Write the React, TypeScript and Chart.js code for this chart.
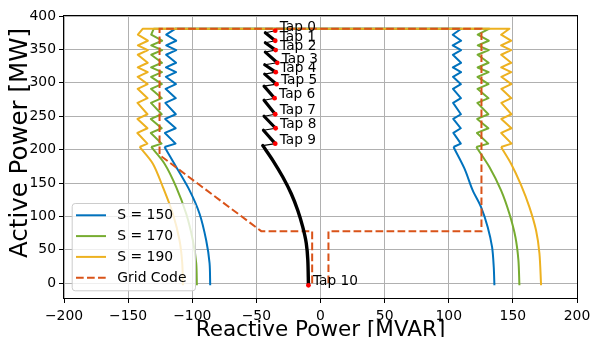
import React, { useEffect, useRef } from 'react';
import { Chart, registerables } from 'chart.js';

Chart.register(...registerables);

const FONT = '"DejaVu Sans", "Liberation Sans", sans-serif';

// ---- axes ----
const xTicks = [-200, -150, -100, -50, 0, 50, 100, 150, 200];
const yTicks = [0, 50, 100, 150, 200, 250, 300, 350, 400];
const X_MIN = -200;
const X_MAX = 200;
const Y_MIN = -22;
const Y_MAX = 400;
const X_TITLE = 'Reactive Power [MVAR]';
const Y_TITLE = 'Active Power [MW]';

// ---- colours ----
const BLUE = '#0072BD';
const GREEN = '#77AC30';
const ORANGE = '#EDB120';
const GRID_RED = '#D95319';

// ---- legend labels ----
const seriesLabels = ['S = 150', 'S = 170', 'S = 190', 'Grid Code'];

// ---- tap (red) operating points ----
const tapNames = ['Tap 0', 'Tap 1', 'Tap 2', 'Tap 3', 'Tap 4', 'Tap 5', 'Tap 6', 'Tap 7', 'Tap 8', 'Tap 9', 'Tap 10'];
const tapQ = [-35.3, -35.3, -35.0, -33.7, -34.9, -34.3, -35.8, -35.3, -35.0, -35.3, -9.4];
const tapP = [378, 363, 349, 330, 316, 298, 277, 253, 232, 209, -3];

// black segment starting points (after each tap change)
const segStartQ = [-43, -43, -43, -43.5, -43.5, -44, -44, -44, -44.5];
const segStartP = [375, 360, 346, 327, 313, 295, 274, 250, 229];

// black lower arc
const blackArcQ = [-45, -37.2, -29.4, -22.8, -17.7, -13.8, -11.1, -9.9, -9.4];
const blackArcP = [206, 184, 159, 134, 109, 84, 60, 35, -3];

// ---- capability curves: zig-zag part (top -> bottom) ----
const zigP = [381, 372, 363, 356, 349, 342, 330, 323, 316, 309, 298, 291, 277, 270, 253, 246, 232, 225, 209, 204];

const s150LeftZigQ = [-113, -120.3, -112.5, -120.3, -112.5, -120.4, -112.6, -120.5, -112.6, -120.6, -112.7, -120.8, -112.8, -121.0, -112.8, -121.1, -112.9, -121.3, -113.0, -121.6];
const s150RightZigQ = [109.7, 103.1, 109.7, 103.1, 109.6, 103.2, 109.6, 103.2, 109.6, 103.3, 109.5, 103.3, 109.5, 103.4, 109.5, 103.5, 109.4, 103.6, 109.4, 103.7];
const s170LeftZigQ = [-130, -132.0, -123.5, -132.0, -123.5, -132.0, -123.6, -132.1, -123.6, -132.1, -123.7, -132.2, -123.7, -132.2, -123.8, -132.3, -123.8, -132.3, -123.9, -132.0];
const s170RightZigQ = [131.7, 122.6, 131.2, 122.6, 131.2, 122.5, 131.1, 122.5, 131.1, 122.4, 131.0, 122.4, 131.0, 122.3, 130.9, 122.2, 130.9, 122.0, 130.8, 121.5];
const s190LeftZigQ = [-138.5, -142.4, -134.6, -142.4, -134.6, -142.5, -134.7, -142.5, -134.7, -142.6, -134.8, -142.6, -134.8, -142.7, -134.9, -142.7, -134.9, -142.8, -135.0, -141.0];
const s190RightZigQ = [147.3, 140.8, 148.6, 140.8, 148.6, 140.9, 148.7, 140.9, 148.7, 141.0, 148.8, 141.0, 148.8, 141.0, 148.9, 141.0, 148.9, 140.9, 149.0, 140.8];

// ---- capability curves: lower arcs (top -> bottom) ----
const s150LeftArcQ = [-112.5, -102.1, -94.3, -89.1, -86.5, -86.0];
const s150LeftArcP = [174, 139, 104, 64, 30, -3];
const s150RightArcQ = [112.2, 118.7, 125.2, 130.4, 133.8, 135.1, 135.6];
const s150RightArcP = [172, 139, 114, 84, 54, 24, -3];
const s170LeftArcQ = [-121.6, -112.5, -104.7, -99.5, -96.9, -96.4];
const s170LeftArcP = [179, 144, 104, 64, 30, -3];
const s170RightArcQ = [131.7, 140.8, 147.3, 152.0, 154.3, 155.1];
const s170RightArcP = [174, 139, 104, 69, 35, -3];
const s190LeftArcQ = [-130.7, -122.9, -115.1, -109.9, -107.8, -107.3];
const s190LeftArcP = [179, 144, 104, 64, 30, -3];
const s190RightArcQ = [148.6, 156.4, 162.9, 168.1, 170.7, 172.0];
const s190RightArcP = [179, 147, 114, 79, 45, -3];

// ---- grid code envelope ----
const gridCodeQ = [-6.5, -6.5, -46.2, -125.5, -125.5, 125.5, 125.5, 6.2, 6.2];
const gridCodeP = [0, 78, 78, 192, 381, 381, 78, 78, 0];

// ---------------------------------------------------------------
type Pt = { x: number; y: number | null };
const pts = (qs: number[], ps: number[]): Pt[] => qs.map((q, i) => ({ x: q, y: ps[i] }));

const capMain = (leftQ: number[], rightQ: number[]): Pt[] => [
  ...pts(leftQ, zigP).reverse(),
  ...pts(rightQ, zigP),
];
const capArc = (zigQ: number[], arcQ: number[], arcP: number[]): Pt[] => [
  { x: zigQ[zigQ.length - 1], y: zigP[zigP.length - 1] },
  ...pts(arcQ, arcP),
];

function blackThick(): Pt[] {
  const out: Pt[] = [];
  for (let k = 0; k < segStartQ.length; k++) {
    out.push({ x: segStartQ[k], y: segStartP[k] });
    out.push({ x: tapQ[k + 1], y: tapP[k + 1] });
    out.push({ x: tapQ[k + 1], y: null });
  }
  return out;
}
function blackThin(): Pt[] {
  const out: Pt[] = [];
  for (let k = 0; k < segStartQ.length; k++) {
    out.push({ x: tapQ[k], y: tapP[k] });
    out.push({ x: segStartQ[k], y: segStartP[k] });
  }
  out.push({ x: tapQ[segStartQ.length], y: tapP[segStartQ.length] });
  out.push({ x: blackArcQ[0], y: blackArcP[0] });
  return out;
}

const lineDs = (data: Pt[], color: string, order: number, extra: any = {}) => ({
  data,
  borderColor: color,
  backgroundColor: color,
  borderWidth: 2,
  pointRadius: 0,
  fill: false,
  tension: 0,
  borderJoinStyle: 'round',
  order,
  ...extra,
});

const legendEntries = [
  { label: seriesLabels[0], color: BLUE, dash: [] as number[] },
  { label: seriesLabels[1], color: GREEN, dash: [] as number[] },
  { label: seriesLabels[2], color: ORANGE, dash: [] as number[] },
  { label: seriesLabels[3], color: GRID_RED, dash: [7.7, 3.3] },
];

const decorPlugin = {
  id: 'decor',
  afterDatasetsDraw(chart: any) {
    const { ctx, chartArea: a, scales } = chart;
    const xs = scales.x;
    const ys = scales.y;
    ctx.save();
    // tap labels
    ctx.font = `13.7px ${FONT}`;
    ctx.fillStyle = '#000';
    ctx.textAlign = 'left';
    ctx.textBaseline = 'alphabetic';
    tapNames.forEach((t, i) => {
      ctx.fillText(t, xs.getPixelForValue(tapQ[i]) + 4.5, ys.getPixelForValue(tapP[i]));
    });
    // frame
    ctx.strokeStyle = '#000';
    ctx.lineWidth = 1;
    ctx.strokeRect(Math.round(a.left) - 0.5, Math.round(a.top) - 0.5, Math.round(a.right - a.left) + 1, Math.round(a.bottom - a.top) + 1);
    // y axis title
    ctx.save();
    ctx.translate(21, 143);
    ctx.rotate(-Math.PI / 2);
    ctx.font = `24.5px ${FONT}`;
    ctx.textAlign = 'center';
    ctx.textBaseline = 'middle';
    ctx.fillText(Y_TITLE, 0, 0);
    ctx.restore();
    ctx.restore();
  },
  afterDraw(chart: any) {
    const { ctx, chartArea: a } = chart;
    ctx.save();
    const lx = a.left + 7.7;
    const bottom = a.bottom - 7.7;
    const w = 123.3;
    const h = 87.3;
    const top = bottom - h;
    ctx.beginPath();
    (ctx as any).roundRect(lx + 0.5, top + 0.5, w, h, 3);
    ctx.fillStyle = 'rgba(255,255,255,0.8)';
    ctx.fill();
    ctx.strokeStyle = '#cccccc';
    ctx.lineWidth = 1;
    ctx.stroke();
    legendEntries.forEach((e, i) => {
      const y = top + 12.3 + i * 20.8;
      ctx.beginPath();
      ctx.setLineDash(e.dash);
      ctx.strokeStyle = e.color;
      ctx.lineWidth = 2;
      ctx.moveTo(lx + 4.3, y);
      ctx.lineTo(lx + 34.3, y);
      ctx.stroke();
      ctx.setLineDash([]);
      ctx.fillStyle = '#000';
      ctx.font = `13.9px ${FONT}`;
      ctx.textAlign = 'left';
      ctx.textBaseline = 'middle';
      ctx.fillText(e.label, lx + 45.6, y + 0.5);
    });
    ctx.restore();
  },
};

const fmt = (v: number) => String(v).replace('-', '\u2212');

export default function App() {
  const ref = useRef<HTMLCanvasElement | null>(null);

  useEffect(() => {
    if (!ref.current) return;
    Chart.defaults.font.family = FONT;
    const datasets: any[] = [
      lineDs(capMain(s150LeftZigQ, s150RightZigQ), BLUE, 20),
      lineDs(capArc(s150LeftZigQ, s150LeftArcQ, s150LeftArcP), BLUE, 20, { tension: 0.3 }),
      lineDs(capArc(s150RightZigQ, s150RightArcQ, s150RightArcP), BLUE, 20, { tension: 0.3 }),
      lineDs(capMain(s170LeftZigQ, s170RightZigQ), GREEN, 19),
      lineDs(capArc(s170LeftZigQ, s170LeftArcQ, s170LeftArcP), GREEN, 19, { tension: 0.3 }),
      lineDs(capArc(s170RightZigQ, s170RightArcQ, s170RightArcP), GREEN, 19, { tension: 0.3 }),
      lineDs(capMain(s190LeftZigQ, s190RightZigQ), ORANGE, 18),
      lineDs(capArc(s190LeftZigQ, s190LeftArcQ, s190LeftArcP), ORANGE, 18, { tension: 0.3 }),
      lineDs(capArc(s190RightZigQ, s190RightArcQ, s190RightArcP), ORANGE, 18, { tension: 0.3 }),
      lineDs(pts(gridCodeQ, gridCodeP), GRID_RED, 17, { borderDash: [7.7, 3.3], borderJoinStyle: 'miter' }),
      lineDs(blackThin(), '#000', 16, { borderWidth: 1.1 }),
      lineDs(blackThick(), '#000', 15, { borderWidth: 3.2, borderCapStyle: 'round', spanGaps: false }),
      lineDs(pts(blackArcQ, blackArcP), '#000', 15, { borderWidth: 3.4, borderCapStyle: 'round', tension: 0.3 }),
      {
        data: pts(tapQ, tapP),
        showLine: false,
        pointRadius: 2.4,
        pointBackgroundColor: '#ff0000',
        pointBorderWidth: 0,
        borderColor: '#ff0000',
        order: 1,
      },
    ];

    const tickFont = { family: FONT, size: 13.9 };
    const chart = new Chart(ref.current, {
      type: 'line',
      data: { datasets },
      plugins: [decorPlugin],
      options: {
        animation: false,
        responsive: false,
        devicePixelRatio: 1,
        events: [],
        layout: { padding: { left: 0, top: 16, right: 14, bottom: 0 } },
        plugins: { legend: { display: false }, tooltip: { enabled: false } },
        scales: {
          x: {
            type: 'linear',
            min: X_MIN,
            max: X_MAX,
            afterBuildTicks: (s: any) => { s.ticks = xTicks.map((v) => ({ value: v })); },
            afterFit: (s: any) => { s.height = 39; s.paddingLeft = 0; s.paddingRight = 0; },
            border: { display: false },
            grid: { color: '#b0b0b0', lineWidth: 1, tickColor: '#000', tickLength: 5, drawTicks: true },
            ticks: { font: tickFont, color: '#000', padding: 5, maxRotation: 0, autoSkip: false, callback: (v: any) => fmt(v) },
            title: {
              display: true,
              text: X_TITLE,
              color: '#000',
              font: { family: FONT, size: 21.5, lineHeight: 0.6 },
              padding: { top: 0, bottom: 0 },
            },
          },
          y: {
            type: 'linear',
            min: Y_MIN,
            max: Y_MAX,
            afterBuildTicks: (s: any) => { s.ticks = yTicks.map((v) => ({ value: v })); },
            afterFit: (s: any) => { s.width = 64; },
            border: { display: false },
            grid: { color: '#b0b0b0', lineWidth: 1, tickColor: '#000', tickLength: 5, drawTicks: true },
            ticks: { font: tickFont, color: '#000', padding: 3, autoSkip: false, callback: (v: any) => fmt(v) },
            title: { display: false },
          },
        },
      } as any,
    });
    return () => chart.destroy();
  }, []);

  return (
    <canvas
      ref={ref}
      width={591}
      height={337}
      style={{ position: 'absolute', left: 0, top: 0, width: 591, height: 337 }}
    />
  );
}
